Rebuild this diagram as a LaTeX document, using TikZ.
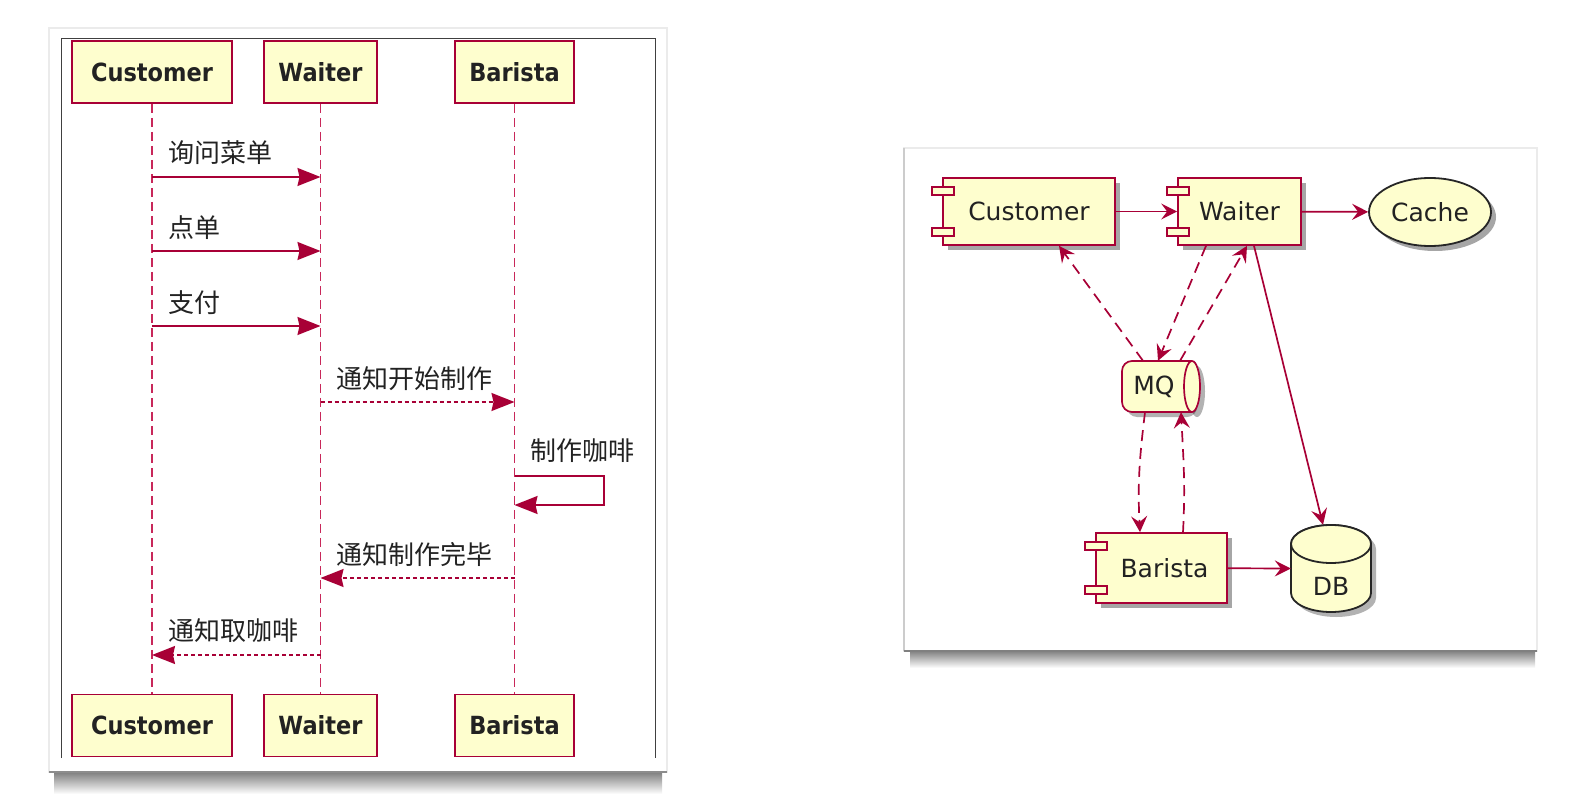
\documentclass[tikz,border=0pt]{standalone}
\usepackage{fontspec}
\setmainfont{DejaVu Sans}
\newfontfamily\seqfont{DejaVu Sans}[FakeStretch=0.9]
\newfontfamily\cjk{Noto Sans CJK SC}
\usetikzlibrary{arrows.meta,shapes.geometric,shadows,calc}
\definecolor{crim}{HTML}{A80036}
\definecolor{life}{HTML}{C8285A}
\definecolor{bgy}{HTML}{FEFECE}
\definecolor{txt}{HTML}{222222}
\tikzset{
  part/.style={draw=crim, fill=bgy, line width=1.6pt, minimum height=62pt, inner sep=0pt,
    font=\seqfont\bfseries\fontsize{25}{30}\selectfont, text=txt},
  lifeline/.style={draw=life, line width=1.6pt, dash pattern=on 9pt off 5pt},
  msg/.style={draw=crim, line width=1.6pt, -{Stealth[length=23pt,width=18pt,inset=2pt]}},
  dmsg/.style={msg, dash pattern=on 4pt off 3pt},
  lbl/.style={font=\cjk\fontsize{26}{30}\selectfont, text=txt, inner sep=0pt},
  frameline/.style={draw=black!75, line width=1pt},
  comp/.style={draw=crim, fill=bgy, line width=1.7pt, inner sep=0pt,
    font=\fontsize{25}{30}\selectfont, text=txt,
    drop shadow={shadow xshift=5pt, shadow yshift=-5pt, opacity=0.35, fill=black}},
  icon/.style={draw=crim, fill=bgy, line width=1.4pt},
  carrow/.style={draw=crim, line width=1.7pt, -{Stealth[length=16pt,width=16pt,inset=6pt]}},
  cdash/.style={carrow, dash pattern=on 11pt off 7pt},
  blackshape/.style={draw=black!85, fill=bgy, line width=1.8pt},
}
\begin{document}
\begin{tikzpicture}[x=1pt,y=-1pt]
\useasboundingbox (0,0) rectangle (1594,802);

% ---------- left card ----------
\shade[top color=black!55, bottom color=white] (54,770) rectangle (662,794);
\fill[white] (49,28) rectangle (667,772);
\draw[black!8, line width=1.5pt] (49,28) rectangle (667,772);
\draw[black!45, line width=1.5pt] (49,772) -- (667,772);
\draw[frameline] (61,758) -- (61,39) -- (655,39) -- (655,758);

\node[part, minimum width=160pt] (ct) at (152,72) {Customer};
\node[part, minimum width=113pt] (wt) at (320.5,72) {Waiter};
\node[part, minimum width=119pt] (bt) at (514.5,72) {Barista};
\node[part, minimum width=160pt] (cb) at (152,725.5) {Customer};
\node[part, minimum width=113pt] (wb) at (320.5,725.5) {Waiter};
\node[part, minimum width=119pt] (bb) at (514.5,725.5) {Barista};

\draw[lifeline] (ct) -- (cb);
\draw[lifeline] (wt) -- (wb);
\draw[lifeline] (bt) -- (bb);

\coordinate (m1a) at (ct |- 0,177); \coordinate (m1b) at (wt |- 0,177);
\coordinate (m2a) at (ct |- 0,251); \coordinate (m2b) at (wt |- 0,251);
\coordinate (m3a) at (ct |- 0,326); \coordinate (m3b) at (wt |- 0,326);
\coordinate (m4a) at (wt |- 0,402); \coordinate (m4b) at (bt |- 0,402);
\coordinate (m5a) at (bt |- 0,476); \coordinate (m5b) at (bt |- 0,505);
\coordinate (m6a) at (bt |- 0,578); \coordinate (m6b) at (wt |- 0,578);
\coordinate (m7a) at (wt |- 0,655); \coordinate (m7b) at (ct |- 0,655);

\draw[msg] (m1a) -- (m1b);
\draw[msg] (m2a) -- (m2b);
\draw[msg] (m3a) -- (m3b);
\draw[dmsg] (m4a) -- (m4b);
\draw[msg] (m5a) -- (604,476) -- (604,505) -- (m5b);
\draw[dmsg] (m6a) -- (m6b);
\draw[dmsg] (m7a) -- (m7b);

\node[lbl, anchor=base west] (l1) at (168,163) {询问菜单};
\node[lbl, anchor=base west] (l2) at (168,238) {点单};
\node[lbl, anchor=base west] (l3) at (168,312) {支付};
\node[lbl, anchor=base west] (l4) at (336,388) {通知开始制作};
\node[lbl, anchor=base west] (l5) at (530,460) {制作咖啡};
\node[lbl, anchor=base west] (l6) at (336,564) {通知制作完毕};
\node[lbl, anchor=base west] (l7) at (168,640) {通知取咖啡};

% ---------- right card ----------
\shade[top color=black!55, bottom color=white] (910,649) rectangle (1535,668);
\fill[white] (904,148) rectangle (1537,651);
\draw[black!8, line width=1.5pt] (904,148) rectangle (1537,651);
\draw[black!20, line width=1.5pt] (904,148) -- (904,651);
\draw[black!50, line width=1.8pt] (904,651) -- (1537,651);

\node[comp, minimum width=172pt, minimum height=67pt] (cust) at (1029,211.5) {Customer};
\node[comp, minimum width=123pt, minimum height=67pt] (waiter) at (1239.5,211.5) {Waiter};
\node[comp, minimum width=131pt, minimum height=70pt] (barista) at (1161.5,568) {\hspace*{6pt}Barista};
\foreach \n in {cust,waiter,barista}{
  \draw[icon] ($(\n.north west)+(-10,10)$) rectangle ++(22,8);
  \draw[icon] ($(\n.south west)+(-10,-18)$) rectangle ++(22,8);
}
\node[ellipse, blackshape, minimum width=122pt, minimum height=68pt, inner sep=0pt,
  font=\fontsize{25}{30}\selectfont, text=txt,
  drop shadow={shadow xshift=5pt, shadow yshift=-5pt, opacity=0.35, fill=black}] (cache) at (1430,212) {Cache};

% MQ (queue)
\node[minimum width=78pt, minimum height=51pt, inner sep=0pt] (mq) at (1161,386.5) {};
\fill[black, opacity=0.3, rounded corners=10pt] (1197,366) -- (1127,366) -- (1127,417) -- (1197,417) -- cycle;
\fill[black, opacity=0.3] (1197,391.5) ellipse [x radius=8pt, y radius=25.5pt];
\filldraw[draw=crim, fill=bgy, line width=1.7pt, rounded corners=10pt]
  (1192,361) -- (1122,361) -- (1122,412) -- (1192,412);
\fill[bgy] (1180,362) rectangle (1192,411);
\draw[draw=crim, fill=bgy, line width=1.7pt] (1192,386.5) ellipse [x radius=8pt, y radius=25.5pt];
\node[font=\fontsize{25}{30}\selectfont, text=txt] (mqt) at (1154,386.5) {MQ};

% DB (cylinder)
\node[minimum width=80pt, minimum height=87pt, inner sep=0pt] (db) at (1331,568.5) {};
\fill[black, opacity=0.3] (1296,549) -- (1296,598) arc[start angle=180, end angle=360, x radius=40pt, y radius=19pt] -- (1376,549) arc[start angle=0, end angle=180, x radius=40pt, y radius=19pt] -- cycle;
\filldraw[blackshape] (1291,544) -- (1291,593) arc[start angle=180, end angle=360, x radius=40pt, y radius=19pt] -- (1371,544) arc[start angle=0, end angle=180, x radius=40pt, y radius=19pt] -- cycle;
\draw[blackshape] (1331,544) ellipse [x radius=40pt, y radius=19pt];
\node[font=\fontsize{25}{30}\selectfont, text=txt] (dbt) at (1331,586) {DB};

% connectors
\draw[carrow] (cust) -- (waiter);
\draw[carrow] (waiter) -- (cache);
\draw[carrow] (barista) -- (db.west);
\draw[carrow] ([xshift=14.5pt]waiter.south) -- ([xshift=-8pt]db.north);
\draw[cdash] ([xshift=-18pt]mq.north) -- ([xshift=30pt]cust.south);
\draw[cdash] ([xshift=-33.5pt]waiter.south) -- ([xshift=-3pt]mq.north);
\draw[cdash] ([xshift=19pt]mq.north) -- ([xshift=7.5pt]waiter.south);
\draw[cdash] ([xshift=-16pt]mq.south) to[out=-97, in=93] ([xshift=-21.5pt]barista.north);
\draw[cdash] ([xshift=21.5pt]barista.north) to[out=87, in=-87] ([xshift=20pt]mq.south);
\end{tikzpicture}
\end{document}
